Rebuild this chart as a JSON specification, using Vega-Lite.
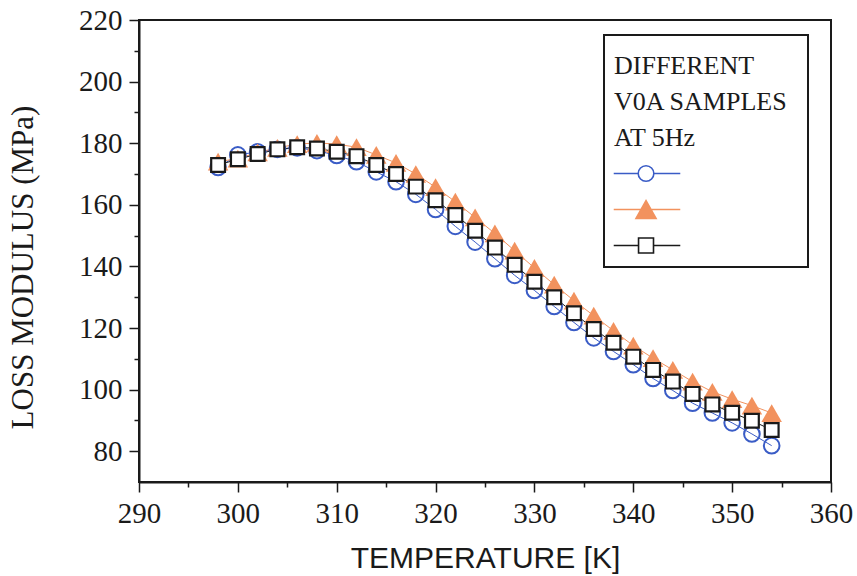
{
  "$schema": "https://vega.github.io/schema/vega-lite/v6.json",
  "width": 692,
  "height": 462,
  "autosize": {"type": "none"},
  "padding": {"left": 139, "top": 20, "right": 26, "bottom": 94},
  "background": "white",
  "config": {
    "view": {"stroke": "#1a1a1a", "strokeWidth": 2},
    "axis": {
      "grid": false,
      "domainColor": "#1a1a1a",
      "domainWidth": 2,
      "tickColor": "#1a1a1a",
      "tickWidth": 1.5,
      "labelFont": "Liberation Serif",
      "labelFontSize": 29,
      "labelColor": "#1a1a1a",
      "titleColor": "#1a1a1a",
      "titleFontWeight": "normal",
      "labelFlush": false,
      "labelOverlap": false
    }
  },
  "data": {
    "values": [
      {"T": 298, "sample": "S1", "E": 172.1}, {"T": 300, "sample": "S1", "E": 176.2}, {"T": 302, "sample": "S1", "E": 177.2}, {"T": 304, "sample": "S1", "E": 178.0}, {"T": 306, "sample": "S1", "E": 178.5}, {"T": 308, "sample": "S1", "E": 177.6}, {"T": 310, "sample": "S1", "E": 176.0}, {"T": 312, "sample": "S1", "E": 174.0}, {"T": 314, "sample": "S1", "E": 170.7}, {"T": 316, "sample": "S1", "E": 167.5}, {"T": 318, "sample": "S1", "E": 163.4}, {"T": 320, "sample": "S1", "E": 158.5}, {"T": 322, "sample": "S1", "E": 153.0}, {"T": 324, "sample": "S1", "E": 147.9}, {"T": 326, "sample": "S1", "E": 142.5}, {"T": 328, "sample": "S1", "E": 137.1}, {"T": 330, "sample": "S1", "E": 132.2}, {"T": 332, "sample": "S1", "E": 127.0}, {"T": 334, "sample": "S1", "E": 121.8}, {"T": 336, "sample": "S1", "E": 116.8}, {"T": 338, "sample": "S1", "E": 112.4}, {"T": 340, "sample": "S1", "E": 108.1}, {"T": 342, "sample": "S1", "E": 103.6}, {"T": 344, "sample": "S1", "E": 99.7}, {"T": 346, "sample": "S1", "E": 95.6}, {"T": 348, "sample": "S1", "E": 92.4}, {"T": 350, "sample": "S1", "E": 89.2}, {"T": 352, "sample": "S1", "E": 85.6}, {"T": 354, "sample": "S1", "E": 81.8},
      {"T": 298, "sample": "S2", "E": 174.0}, {"T": 300, "sample": "S2", "E": 175.0}, {"T": 302, "sample": "S2", "E": 177.0}, {"T": 304, "sample": "S2", "E": 178.5}, {"T": 306, "sample": "S2", "E": 179.7}, {"T": 308, "sample": "S2", "E": 180.1}, {"T": 310, "sample": "S2", "E": 179.7}, {"T": 312, "sample": "S2", "E": 178.7}, {"T": 314, "sample": "S2", "E": 176.2}, {"T": 316, "sample": "S2", "E": 173.6}, {"T": 318, "sample": "S2", "E": 170.0}, {"T": 320, "sample": "S2", "E": 165.7}, {"T": 322, "sample": "S2", "E": 161.0}, {"T": 324, "sample": "S2", "E": 155.9}, {"T": 326, "sample": "S2", "E": 150.7}, {"T": 328, "sample": "S2", "E": 145.1}, {"T": 330, "sample": "S2", "E": 139.5}, {"T": 332, "sample": "S2", "E": 134.1}, {"T": 334, "sample": "S2", "E": 128.9}, {"T": 336, "sample": "S2", "E": 124.0}, {"T": 338, "sample": "S2", "E": 119.1}, {"T": 340, "sample": "S2", "E": 114.3}, {"T": 342, "sample": "S2", "E": 110.2}, {"T": 344, "sample": "S2", "E": 106.4}, {"T": 346, "sample": "S2", "E": 102.6}, {"T": 348, "sample": "S2", "E": 99.3}, {"T": 350, "sample": "S2", "E": 96.9}, {"T": 352, "sample": "S2", "E": 94.8}, {"T": 354, "sample": "S2", "E": 92.4},
      {"T": 298, "sample": "S3", "E": 172.9}, {"T": 300, "sample": "S3", "E": 174.8}, {"T": 302, "sample": "S3", "E": 176.5}, {"T": 304, "sample": "S3", "E": 178.0}, {"T": 306, "sample": "S3", "E": 178.7}, {"T": 308, "sample": "S3", "E": 178.3}, {"T": 310, "sample": "S3", "E": 177.2}, {"T": 312, "sample": "S3", "E": 175.8}, {"T": 314, "sample": "S3", "E": 172.9}, {"T": 316, "sample": "S3", "E": 170.0}, {"T": 318, "sample": "S3", "E": 165.9}, {"T": 320, "sample": "S3", "E": 161.5}, {"T": 322, "sample": "S3", "E": 156.7}, {"T": 324, "sample": "S3", "E": 151.6}, {"T": 326, "sample": "S3", "E": 146.1}, {"T": 328, "sample": "S3", "E": 140.5}, {"T": 330, "sample": "S3", "E": 135.0}, {"T": 332, "sample": "S3", "E": 130.0}, {"T": 334, "sample": "S3", "E": 124.8}, {"T": 336, "sample": "S3", "E": 119.7}, {"T": 338, "sample": "S3", "E": 115.2}, {"T": 340, "sample": "S3", "E": 110.7}, {"T": 342, "sample": "S3", "E": 106.4}, {"T": 344, "sample": "S3", "E": 102.6}, {"T": 346, "sample": "S3", "E": 98.6}, {"T": 348, "sample": "S3", "E": 95.2}, {"T": 350, "sample": "S3", "E": 92.5}, {"T": 352, "sample": "S3", "E": 89.9}, {"T": 354, "sample": "S3", "E": 86.9}
    ]
  },
  "resolve": {"axis": {"x": "independent", "y": "independent"}},
  "layer": [
    {
      "mark": {"type": "line", "strokeWidth": 1},
      "encoding": {
        "x": {
          "field": "T", "type": "quantitative",
          "scale": {"domain": [290, 360], "nice": false, "zero": false},
          "axis": {
            "orient": "bottom",
            "values": [290, 300, 310, 320, 330, 340, 350, 360],
            "tickSize": 10,
            "labelPadding": 7,
            "labelFont": "Liberation Serif",
            "labelFontSize": 29,
            "title": "TEMPERATURE [K]",
            "titleFont": "Liberation Sans",
            "titleFontSize": 30,
            "titleY": 85,
            "titleBaseline": "alphabetic"
          }
        },
        "y": {
          "field": "E", "type": "quantitative",
          "scale": {"domain": [70, 220], "nice": false, "zero": false},
          "axis": {
            "orient": "left",
            "values": [80, 100, 120, 140, 160, 180, 200, 220],
            "tickSize": 10,
            "labelPadding": 7,
            "labelFont": "Liberation Serif",
            "labelFontSize": 29,
            "title": "LOSS MODULUS (MPa)",
            "titleFont": "Liberation Serif",
            "titleFontSize": 31,
            "titleX": -107,
            "titleY": 247,
            "titleAngle": -90,
            "titleAlign": "center",
            "titleBaseline": "alphabetic"
          }
        },
        "color": {
          "field": "sample", "type": "nominal",
          "scale": {"domain": ["S1", "S2", "S3"], "range": ["#3a5cc6", "#f2925e", "#1a1a1a"]},
          "legend": {
            "orient": "none",
            "legendX": 465,
            "legendY": 15,
            "title": ["DIFFERENT", "V0A SAMPLES", "AT 5Hz"],
            "titleFont": "Liberation Serif",
            "titleFontSize": 26,
            "titleFontWeight": "normal",
            "titleColor": "#1a1a1a",
            "titleLineHeight": 36,
            "titleBaseline": "line-top",
            "titlePadding": 21,
            "padding": 10,
            "strokeColor": "#1a1a1a",
            "labelExpr": "'\u00a0'",
            "labelOffset": 165,
            "labelFontSize": 17,
            "symbolSize": 289,
            "symbolStrokeWidth": 1.5,
            "rowPadding": 12,
            "encode": {
              "legend": {"update": {"strokeWidth": {"value": 2}}},
              "title": {"update": {"dy": {"value": 3}}},
              "symbols": {
                "update": {
                  "shape": {"signal": "datum.value === 'S1' ? 'M-1.15,0H1.73M3.57,0H6.68M3.57,0A0.92,0.92,0,1,1,1.73,0A0.92,0.92,0,1,1,3.57,0Z' : datum.value === 'S2' ? 'M-1.15,0H6.68M2.65,-1.04L3.83,1.04L1.47,1.04Z' : 'M-1.15,0H1.77M3.53,0H6.68M1.77,-0.88H3.53V0.88H1.77Z'"},
                  "fill": {"signal": "datum.value === 'S2' ? '#f2925e' : 'transparent'"},
                  "fillOpacity": {"value": 1},
                  "strokeWidth": {"value": 1.6}
                }
              }
            }
          }
        }
      }
    },
    {
      "transform": [{"filter": "datum.sample === 'S1'"}],
      "mark": {"type": "point", "shape": "circle", "size": 245, "filled": false, "stroke": "#3a5cc6", "fill": "transparent", "strokeWidth": 2, "opacity": 1},
      "encoding": {
        "x": {
          "field": "T", "type": "quantitative",
          "axis": {
            "orient": "bottom",
            "values": [295, 305, 315, 325, 335, 345, 355],
            "tickSize": 5,
            "labels": false,
            "domain": false,
            "title": null
          }
        },
        "y": {
          "field": "E", "type": "quantitative",
          "axis": {
            "orient": "left",
            "values": [90, 110, 130, 150, 170, 190, 210],
            "tickSize": 5,
            "labels": false,
            "domain": false,
            "title": null
          }
        }
      }
    },
    {
      "transform": [{"filter": "datum.sample === 'S2'"}],
      "mark": {"type": "point", "shape": "triangle-up", "size": 420, "filled": true, "color": "#f2925e", "strokeWidth": 1, "opacity": 1},
      "encoding": {
        "x": {"field": "T", "type": "quantitative", "axis": null},
        "y": {"field": "E", "type": "quantitative", "axis": null}
      }
    },
    {
      "transform": [{"filter": "datum.sample === 'S3'"}],
      "mark": {"type": "point", "shape": "square", "size": 190, "filled": false, "stroke": "#1a1a1a", "fill": "#ffffff", "strokeWidth": 2.2, "opacity": 1},
      "encoding": {
        "x": {"field": "T", "type": "quantitative", "axis": null},
        "y": {"field": "E", "type": "quantitative", "axis": null}
      }
    }
  ]
}
